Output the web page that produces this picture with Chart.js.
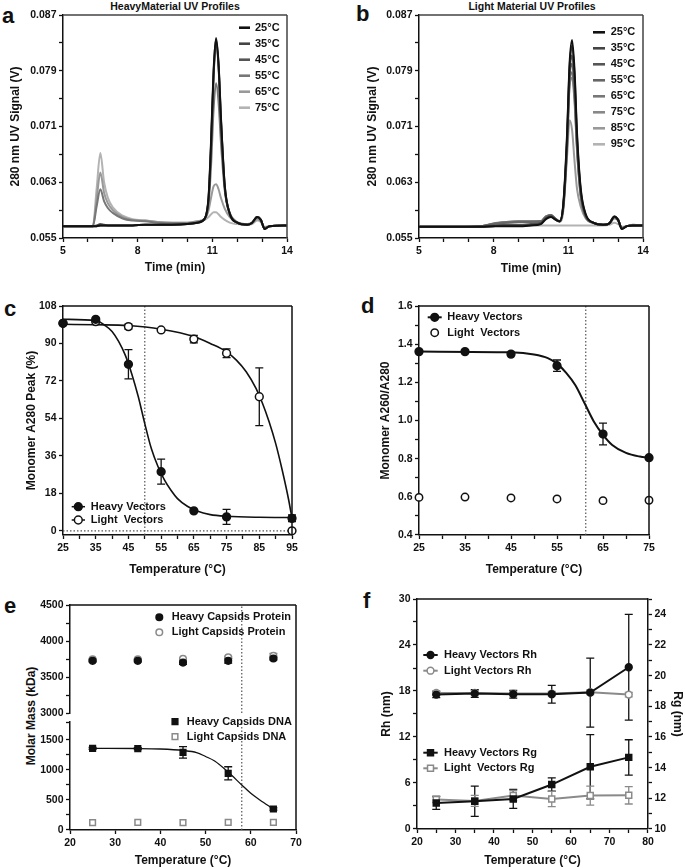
<!DOCTYPE html>
<html lang="en">
<head>
<meta charset="UTF-8">
<title>Capsid thermal stability</title>
<script src="https://cdn.jsdelivr.net/npm/chart.js"></script>
<style>
  body { margin: 0; background: #fff; }
  #page { position: relative; width: 685px; height: 868px; overflow: hidden;
          font-family: "Liberation Sans", Arial, sans-serif; font-weight: bold; color: #111; }
  #page canvas { position: absolute; }
  .tag { position: absolute; font-size: 22px; line-height: 22px; }
  .head { position: absolute; width: 300px; text-align: center; font-size: 10.5px; line-height: 12px; }
  .vtitle { position: absolute; width: 140px; text-align: center; font-size: 12px; line-height: 14px; transform: rotate(-90deg); }
</style>
</head>
<body>
<div id="page">
  <div class="tag" style="left:2px;top:5px">a</div>
  <div class="tag" style="left:356px;top:3px">b</div>
  <div class="tag" style="left:4px;top:298px">c</div>
  <div class="tag" style="left:361px;top:295px">d</div>
  <div class="tag" style="left:4px;top:595px">e</div>
  <div class="tag" style="left:363px;top:590px">f</div>
  <div class="head" style="left:25px;top:0">HeavyMaterial UV Profiles</div>
  <div class="head" style="left:382px;top:0">Light Material UV Profiles</div>
  <div class="vtitle" style="left:-39px;top:709px">Molar Mass (kDa)</div>
</div>
<script>
// ---------- a: heavy material UV traces ----------
const aTime = [5.0, 6.2, 6.35, 6.5, 6.65, 6.8, 7.0, 7.4, 7.8, 8.3, 8.8, 9.4, 10.0, 10.4,
               10.7, 10.85, 10.95, 11.05, 11.15, 11.25, 11.35, 11.5, 11.7, 12.0,
               12.4, 12.6, 12.8, 12.95, 13.1, 13.3, 14.0];
const aTemps = ['25°C', '35°C', '45°C', '55°C', '65°C', '75°C'];
const aColors = ['#111', '#444', '#555', '#777', '#999', '#b3b3b3'];
const a25 = [0.0567,0.0567,0.0567,0.0568,0.0568,0.0568,0.0568,0.0568,0.0568,0.0569,0.0569,0.0569,0.0570,0.0572,
             0.0578,0.0610,0.0690,0.0790,0.0837,0.0800,0.0720,0.0625,0.0585,0.0572,
             0.0569,0.0572,0.0580,0.0576,0.0563,0.0567,0.0568];
const a35 = [0.0567,0.0567,0.0567,0.0568,0.0568,0.0568,0.0568,0.0568,0.0568,0.0569,0.0569,0.0569,0.0570,0.0572,
             0.0578,0.0608,0.0685,0.0785,0.0834,0.0798,0.0718,0.0624,0.0585,0.0572,
             0.0569,0.0572,0.0580,0.0576,0.0563,0.0567,0.0568];
const a45 = [0.0567,0.0567,0.0568,0.0570,0.0569,0.0568,0.0568,0.0568,0.0568,0.0569,0.0569,0.0569,0.0570,0.0572,
             0.0578,0.0606,0.0682,0.0782,0.0830,0.0795,0.0715,0.0622,0.0584,0.0572,
             0.0569,0.0572,0.0580,0.0576,0.0563,0.0567,0.0568];
const a55 = [0.0567,0.0567,0.0595,0.0620,0.0603,0.0593,0.0586,0.0578,0.0575,0.0574,0.0572,0.0571,0.0571,0.0573,
             0.0578,0.0600,0.0655,0.0735,0.0772,0.0745,0.0685,0.0618,0.0586,0.0573,
             0.0570,0.0572,0.0579,0.0575,0.0564,0.0567,0.0568];
const a65 = [0.0567,0.0567,0.0605,0.0644,0.0615,0.0600,0.0590,0.0580,0.0576,0.0575,0.0573,0.0572,0.0572,0.0574,
             0.0578,0.0590,0.0608,0.0624,0.0627,0.0620,0.0607,0.0592,0.0580,0.0572,
             0.0570,0.0571,0.0577,0.0574,0.0565,0.0567,0.0568];
const a75 = [0.0567,0.0567,0.0620,0.0672,0.0630,0.0608,0.0594,0.0582,0.0577,0.0575,0.0573,0.0572,0.0572,0.0574,
             0.0576,0.0580,0.0584,0.0587,0.0587,0.0584,0.0580,0.0576,0.0572,0.0570,
             0.0569,0.0570,0.0575,0.0573,0.0566,0.0567,0.0568];

// ---------- b: light material UV traces ----------
const bTime = [5.0, 6.5, 7.5, 8.0, 8.5, 9.0, 9.5, 9.9, 10.1, 10.3, 10.5, 10.65,
               10.8, 10.95, 11.05, 11.15, 11.25, 11.35, 11.5, 11.7,
               12.0, 12.4, 12.65, 12.85, 13.0, 13.15, 13.35, 13.6, 14.0];
const bTemps = ['25°C', '35°C', '45°C', '55°C', '65°C', '75°C', '85°C', '95°C'];
const bColors = ['#111', '#444', '#555', '#666', '#777', '#888', '#999', '#b3b3b3'];
const b25 = [0.0566,0.0566,0.0566,0.0567,0.0567,0.0567,0.0568,0.0570,0.0577,0.0580,0.0576,0.0574,
             0.0600,0.0700,0.0800,0.0834,0.0790,0.0700,0.0620,0.0584,
             0.0572,0.0569,0.0571,0.0581,0.0576,0.0563,0.0567,0.0568,0.0568];
const b35 = [0.0566,0.0566,0.0566,0.0567,0.0568,0.0568,0.0569,0.0571,0.0578,0.0581,0.0576,0.0574,
             0.0598,0.0695,0.0795,0.0826,0.0784,0.0695,0.0618,0.0583,
             0.0572,0.0569,0.0571,0.0581,0.0576,0.0563,0.0567,0.0568,0.0568];
const b45 = [0.0566,0.0566,0.0567,0.0568,0.0569,0.0569,0.0570,0.0572,0.0579,0.0582,0.0577,0.0574,
             0.0597,0.0690,0.0788,0.0812,0.0772,0.0688,0.0615,0.0582,
             0.0572,0.0569,0.0571,0.0580,0.0576,0.0564,0.0567,0.0568,0.0568];
const b55 = [0.0566,0.0566,0.0567,0.0570,0.0572,0.0573,0.0573,0.0574,0.0580,0.0583,0.0577,0.0574,
             0.0596,0.0685,0.0780,0.0800,0.0762,0.0682,0.0612,0.0581,
             0.0572,0.0569,0.0571,0.0580,0.0576,0.0564,0.0567,0.0568,0.0568];
const b65 = [0.0566,0.0566,0.0567,0.0571,0.0573,0.0574,0.0574,0.0574,0.0581,0.0583,0.0577,0.0574,
             0.0595,0.0682,0.0772,0.0788,0.0752,0.0678,0.0610,0.0580,
             0.0572,0.0569,0.0571,0.0580,0.0576,0.0564,0.0567,0.0568,0.0568];
const b75 = [0.0566,0.0566,0.0567,0.0571,0.0573,0.0574,0.0574,0.0574,0.0581,0.0583,0.0577,0.0574,
             0.0595,0.0680,0.0768,0.0780,0.0745,0.0675,0.0608,0.0580,
             0.0572,0.0569,0.0571,0.0580,0.0576,0.0564,0.0567,0.0568,0.0568];
const b85 = [0.0566,0.0566,0.0567,0.0570,0.0572,0.0573,0.0573,0.0573,0.0578,0.0580,0.0576,0.0573,
             0.0590,0.0668,0.0719,0.0705,0.0660,0.0620,0.0595,0.0578,
             0.0571,0.0569,0.0571,0.0578,0.0575,0.0565,0.0567,0.0569,0.0568];
const b95 = [0.0566,0.0566,0.0566,0.0567,0.0568,0.0568,0.0568,0.0568,0.0568,0.0568,0.0568,0.0568,
             0.0568,0.0568,0.0568,0.0568,0.0568,0.0568,0.0568,0.0568,
             0.0568,0.0568,0.0569,0.0572,0.0570,0.0566,0.0567,0.0569,0.0568];

const timeTicks = [5, 6, 7, 8, 9, 10, 11, 12, 13, 14];
const timeLabels = ['5', '', '', '8', '', '', '11', '', '', '14'];
const uvTicks = [0.055, 0.059, 0.063, 0.067, 0.071, 0.075, 0.079, 0.083, 0.087];
const uvLabels = ['0.055', '', '0.063', '', '0.071', '', '0.079', '', '0.087'];

// ---------- c: monomer A280 peak ----------
const cHeavyT = [25, 35, 45, 55, 65, 75, 95];
const cHeavy = [99.7, 101.6, 80, 28.4, 9.6, 6.7, 6];
const cHeavyErr = [0, 0, 7, 6, 0, 3.6, 1.6];
const cLightT = [25, 35, 45, 55, 65, 75, 85, 95];
const cLight = [99.7, 100.5, 98.1, 96.5, 92.1, 85.3, 64.4, 0];
const cLightErr = [0, 0, 1.2, 0, 1.8, 2.1, 13.9, 0];
const cFitHeavyT = [25, 35, 38, 40, 42, 44, 46, 48, 50, 52, 54, 56, 58, 60, 63, 66, 70, 75, 85, 95];
const cFitHeavy = [101.6, 101.0, 98.5, 95.8, 91.0, 84.5, 75.5, 64.5, 51.5, 39.5, 31.0, 24.5, 19.5, 15.5, 11.8, 9.5, 7.8, 7.0, 6.5, 6.4];
const cFitLightT = [25, 35, 45, 55, 65, 70, 75, 78, 81, 84, 86, 88, 90, 92, 94, 95];
const cFitLight = [99.2, 99.0, 98.6, 96.8, 93.3, 90.0, 86.0, 82.0, 76.4, 68.4, 61.2, 52.4, 42.0, 29.2, 14.7, 6.0];
const cMidT = 50;
const cYMin = -2, cYMax = 108;
const cTTicks = [25, 30, 35, 40, 45, 50, 55, 60, 65, 70, 75, 80, 85, 90, 95];
const cTLabels = ['25', '', '35', '', '45', '', '55', '', '65', '', '75', '', '85', '', '95'];
const cYTicks = [0, 18, 36, 54, 72, 90, 108];
const cYLabels = ['0', '18', '36', '54', '72', '90', '108'];

// ---------- d: monomer A260/A280 ----------
const dT = [25, 35, 45, 55, 65, 75];
const dHeavy = [1.361, 1.361, 1.348, 1.287, 0.929, 0.805];
const dHeavyErr = [0, 0, 0, 0.03, 0.057, 0];
const dLight = [0.597, 0.599, 0.594, 0.589, 0.580, 0.582];
const dFitT = [25, 45, 50, 53, 55, 57, 59, 61, 63, 65, 67, 70, 73, 75];
const dFit = [1.361, 1.357, 1.346, 1.327, 1.298, 1.25, 1.185, 1.09, 0.995, 0.925, 0.872, 0.83, 0.811, 0.805];
const dMidT = 61.25;
const dTTicks = [25, 30, 35, 40, 45, 50, 55, 60, 65, 70, 75];
const dTLabels = ['25', '', '35', '', '45', '', '55', '', '65', '', '75'];
const dYTicks = [0.4, 0.5, 0.6, 0.7, 0.8, 0.9, 1.0, 1.1, 1.2, 1.3, 1.4, 1.5, 1.6];
const dYLabels = ['0.4', '', '0.6', '', '0.8', '', '1.0', '', '1.2', '', '1.4', '', '1.6'];

// ---------- e: molar mass ----------
const eT = [25, 35, 45, 55, 65];
const eHeavyProt = [3724, 3724, 3700, 3724, 3757];
const eHeavyProtErr = [12, 12, 25, 30, 20];
const eLightProt = [3747, 3747, 3752, 3775, 3794];
const eLightProtErr = [8, 8, 8, 12, 35];
const eHeavyDna = [1361, 1356, 1294, 944, 350];
const eHeavyDnaErr = [15, 15, 95, 110, 20];
const eLightDna = [122, 128, 122, 128, 128];
const eFitT = [25, 35, 40, 45, 48, 50, 52, 55, 58, 60, 62, 65];
const eFit = [1361, 1358, 1350, 1325, 1290, 1225, 1150, 965, 750, 611, 500, 350];
const eMidT = 58;
const eTTicks = [20, 30, 40, 50, 60, 70];
const eTLabels = ['20', '30', '40', '50', '60', '70'];
const eTopTicks = [3000, 3250, 3500, 3750, 4000, 4250, 4500];
const eTopLabels = ['3000', '', '3500', '', '4000', '', '4500'];
const eLowTicks = [0, 250, 500, 750, 1000, 1250, 1500, 1800];
const eLowLabels = ['0', '', '500', '', '1000', '', '1500', ''];

// ---------- f: Rh and Rg ----------
const fT = [25, 35, 45, 55, 65, 75];
const fHeavyRh = [17.53, 17.66, 17.58, 17.58, 17.8, 21.1];
const fHeavyRhErr = [0.4, 0.5, 0.5, 1.15, 4.5, 6.9];
const fLightRh = [17.75, 17.75, 17.66, 17.66, 17.84, 17.53];
const fLightRhErr = [0.3, 0.3, 0.3, 0.3, 0.3, 0.3];
const fHeavyRg = [11.70, 11.81, 11.96, 12.90, 14.06, 14.67];
const fHeavyRgErr = [0.42, 0.99, 0.62, 0.43, 2.1, 1.15];
const fLightRg = [11.92, 11.83, 12.18, 11.96, 12.18, 12.20];
const fLightRgErr = [0.2, 0.36, 0.33, 0.5, 0.62, 0.57];
const fTTicks = [20, 25, 30, 35, 40, 45, 50, 55, 60, 65, 70, 75, 80];
const fTLabels = ['20', '', '30', '', '40', '', '50', '', '60', '', '70', '', '80'];
const fRhTicks = [0, 3, 6, 9, 12, 15, 18, 21, 24, 27, 30];
const fRhLabels = ['0', '', '6', '', '12', '', '18', '', '24', '', '30'];
const fRgTicks = [10, 11, 12, 13, 14, 15, 16, 17, 18, 19, 20, 21, 22, 23, 24, 25];
const fRgLabels = ['10', '', '12', '', '14', '', '16', '', '18', '', '20', '', '22', '', '24', ''];

// ---------- shared setup ----------
Chart.defaults.font.family = '"Liberation Sans", Arial, sans-serif';
Chart.defaults.font.weight = 'bold';
Chart.defaults.color = '#111';
Chart.defaults.animation = false;

const INK = '#111';
const GREY = '#8a8a8a';

// error bars go under the markers
const errorBars = {
  id: 'errorBars',
  beforeDatasetsDraw(chart) {
    const ctx = chart.ctx;
    chart.data.datasets.forEach((ds, i) => {
      if (!ds.errors) return;
      const meta = chart.getDatasetMeta(i);
      const ys = chart.scales[meta.yAxisID];
      ctx.save();
      ctx.strokeStyle = ds.borderColor;
      ctx.lineWidth = 1.3;
      meta.data.forEach((el, j) => {
        const e = ds.errors[j];
        if (!e) return;
        const v = ds.data[j].y;
        const y1 = ys.getPixelForValue(v + e), y2 = ys.getPixelForValue(v - e);
        ctx.beginPath();
        ctx.moveTo(el.x, y1); ctx.lineTo(el.x, y2);
        ctx.moveTo(el.x - 4, y1); ctx.lineTo(el.x + 4, y1);
        ctx.moveTo(el.x - 4, y2); ctx.lineTo(el.x + 4, y2);
        ctx.stroke();
      });
      ctx.restore();
    });
  }
};

// top / right edges of the plot box
const frame = {
  id: 'frame',
  afterDatasetsDraw(chart, args, o) {
    if (!o.on) return;
    const { left, top, right, bottom } = chart.chartArea;
    const ctx = chart.ctx;
    ctx.save();
    ctx.strokeStyle = o.color || INK;
    ctx.lineWidth = 1.5;
    ctx.beginPath();
    if (o.top) { ctx.moveTo(left, top); ctx.lineTo(right, top); }
    if (o.right) { ctx.moveTo(right, top); ctx.lineTo(right, bottom + (o.extend || 0)); }
    ctx.stroke();
    ctx.restore();
  }
};

function drawMark(ctx, ds, x, y) {
  const r = ds.pointRadius;
  ctx.beginPath();
  if (ds.pointStyle === 'rect') {
    const h = r * Math.SQRT1_2;
    ctx.rect(x - h, y - h, 2 * h, 2 * h);
  } else {
    ctx.arc(x, y, r, 0, Math.PI * 2);
  }
  ctx.fillStyle = ds.backgroundColor;
  ctx.fill();
  ctx.lineWidth = ds.pointBorderWidth;
  ctx.strokeStyle = ds.borderColor;
  ctx.stroke();
}

// hand placed legend, positions in page pixels
const key = {
  id: 'key',
  afterDraw(chart, args, o) {
    if (!o.rows) return;
    const ctx = chart.ctx;
    ctx.save();
    ctx.font = 'bold 11px "Liberation Sans", Arial, sans-serif';
    ctx.textBaseline = 'middle';
    o.rows.forEach(r => {
      const ds = chart.data.datasets[r.ds];
      const y = r.y - o.oy;
      if (o.line && r.line !== false) {
        ctx.strokeStyle = ds.borderColor;
        ctx.lineWidth = o.lw || ds.borderWidth;
        ctx.beginPath();
        ctx.moveTo(o.x0 - o.ox, y);
        ctx.lineTo(o.x1 - o.ox, y);
        ctx.stroke();
      }
      if (o.mx != null && ds.pointRadius > 0) drawMark(ctx, ds, o.mx - o.ox, y);
      ctx.fillStyle = INK;
      ctx.fillText(r.text || ds.label, o.tx - o.ox, y);
    });
    ctx.restore();
  }
};

Chart.register(errorBars, frame, key);

const pts = (xs, ys) => xs.map((x, i) => ({ x, y: ys[i] }));

function trace(label, xs, ys, color) {
  return { label, data: pts(xs, ys), showLine: true, borderColor: color, borderWidth: 2,
           pointRadius: 0, cubicInterpolationMode: 'monotone', clip: false };
}
function fit(xs, ys, w) {
  return { data: pts(xs, ys), showLine: true, borderColor: INK, borderWidth: w || 1.6,
           pointRadius: 0, cubicInterpolationMode: 'monotone', clip: false };
}
function guide(xs, ys) {
  return { data: pts(xs, ys), showLine: true, borderColor: '#555', borderWidth: 1.2,
           borderDash: [1.5, 2], pointRadius: 0, clip: false };
}
function marks(label, xs, ys, o) {
  return { label, data: pts(xs, ys), showLine: !!o.line, borderColor: o.color,
           backgroundColor: o.open ? '#fff' : o.color, pointStyle: o.square ? 'rect' : 'circle',
           pointRadius: o.r || 4, pointBorderWidth: 1.5, borderWidth: o.lw || 2,
           errors: o.err, clip: false, yAxisID: o.axis || 'y' };
}

function axis(o) {
  const horiz = o.position === 'bottom';
  return {
    type: 'linear', position: o.position, min: o.min, max: o.max, display: o.display !== false,
    afterFit: s => { if (horiz) s.height = o.size; else s.width = o.size; },
    afterBuildTicks: s => { s.ticks = o.ticks.map(v => ({ value: v })); },
    ticks: { autoSkip: false, maxRotation: 0, padding: 2.5, color: INK,
             font: { size: 10.5, weight: 'bold' }, callback: (v, i) => o.labels[i] },
    grid: { drawOnChartArea: false, drawTicks: true, tickLength: 4, tickWidth: 1.3, tickColor: INK },
    border: { display: true, color: INK, width: 1.5 },
    title: o.title ? { display: true, text: o.title, color: INK, padding: 0,
                       font: { size: 12, weight: 'bold' } } : { display: false }
  };
}

// padding and axis sizes so the plot box lands where the figure has it
function geo(box, area, yTitleX, xTitleY, rTitleX) {
  const half = 7.2;
  const pl = yTitleX ? yTitleX - box.x - half : 0;
  const pb = xTitleY ? box.y + box.h - xTitleY - half : box.y + box.h - area.B;
  const pr = rTitleX ? box.x + box.w - rTitleX - half : box.x + box.w - area.R;
  return {
    padding: { left: pl, right: pr, top: area.T - box.y, bottom: pb },
    yW: area.L - box.x - pl,
    xH: xTitleY ? box.y + box.h - pb - area.B : 0,
    rW: rTitleX ? box.x + box.w - pr - area.R : 0
  };
}

function canvasAt(box) {
  const c = document.createElement('canvas');
  c.width = box.w; c.height = box.h;
  c.style.left = box.x + 'px'; c.style.top = box.y + 'px';
  document.getElementById('page').appendChild(c);
  return c;
}

function panel(box, g, datasets, scales, plugins) {
  return new Chart(canvasAt(box), {
    type: 'scatter',
    data: { datasets },
    options: {
      responsive: false,
      layout: { padding: g.padding },
      scales,
      plugins: Object.assign({ legend: { display: false }, tooltip: { enabled: false } }, plugins)
    }
  });
}

// ---- a ----
(() => {
  const box = { x: 0, y: 0, w: 340, h: 290 };
  const g = geo(box, { L: 63, T: 15, R: 287, B: 238 }, 15.3, 268);
  const series = [a25, a35, a45, a55, a65, a75];
  panel(box, g, series.map((s, i) => trace(aTemps[i], aTime, s, aColors[i])), {
    x: axis({ position: 'bottom', min: 5, max: 14, ticks: timeTicks, labels: timeLabels, size: g.xH, title: 'Time (min)' }),
    y: axis({ position: 'left', min: 0.055, max: 0.087, ticks: uvTicks, labels: uvLabels, size: g.yW, title: '280 nm UV Signal (V)' })
  }, {
    frame: { on: true, top: true, right: true, color: '#444' },
    key: { ox: 0, oy: 0, line: true, lw: 2.6, x0: 239, x1: 250, tx: 255,
           rows: aTemps.map((t, i) => ({ ds: i, y: 27.7 + 16 * i })) }
  });
})();

// ---- b ----
(() => {
  const box = { x: 340, y: 0, w: 345, h: 290 };
  const g = geo(box, { L: 419, T: 15, R: 643, B: 238 }, 372.3, 268.7);
  const series = [b25, b35, b45, b55, b65, b75, b85, b95];
  panel(box, g, series.map((s, i) => trace(bTemps[i], bTime, s, bColors[i])), {
    x: axis({ position: 'bottom', min: 5, max: 14, ticks: timeTicks, labels: timeLabels, size: g.xH, title: 'Time (min)' }),
    y: axis({ position: 'left', min: 0.055, max: 0.087, ticks: uvTicks, labels: uvLabels, size: g.yW, title: '280 nm UV Signal (V)' })
  }, {
    frame: { on: true, top: true, right: true, color: '#444' },
    key: { ox: 340, oy: 0, line: true, lw: 2.6, x0: 593, x1: 605, tx: 610.7,
           rows: bTemps.map((t, i) => ({ ds: i, y: 32.3 + 16 * i })) }
  });
})();

// ---- c ----
(() => {
  const box = { x: 0, y: 290, w: 340, h: 290 };
  const g = geo(box, { L: 63, T: 306, R: 292, B: 535 }, 31.3, 569.7);
  panel(box, g, [
    marks('Heavy Vectors', cHeavyT, cHeavy, { color: INK, r: 3.9, err: cHeavyErr }),
    marks('Light  Vectors', cLightT, cLight, { color: INK, open: true, r: 3.9, err: cLightErr }),
    fit(cFitHeavyT, cFitHeavy),
    fit(cFitLightT, cFitLight),
    guide([cMidT, cMidT], [cYMin, cYMax]),
    guide([25, 95], [0, 0])
  ], {
    x: axis({ position: 'bottom', min: 25, max: 95, ticks: cTTicks, labels: cTLabels, size: g.xH, title: 'Temperature (°C)' }),
    y: axis({ position: 'left', min: cYMin, max: cYMax, ticks: cYTicks, labels: cYLabels, size: g.yW, title: 'Monomer A280 Peak (%)' })
  }, {
    frame: { on: true, top: true, right: true },
    key: { ox: 0, oy: 290, line: true, lw: 1.5, x0: 71.7, x1: 85, mx: 78.3, tx: 90.7,
           rows: [{ ds: 0, y: 506.7 }, { ds: 1, y: 520 }] }
  });
})();

// ---- d ----
(() => {
  const box = { x: 340, y: 290, w: 345, h: 290 };
  const g = geo(box, { L: 419, T: 306, R: 649, B: 535 }, 385.8, 569.3);
  panel(box, g, [
    marks('Heavy Vectors', dT, dHeavy, { color: INK, r: 3.9, err: dHeavyErr }),
    marks('Light  Vectors', dT, dLight, { color: INK, open: true, r: 3.7 }),
    fit(dFitT, dFit, 2),
    guide([dMidT, dMidT], [0.4, 1.6])
  ], {
    x: axis({ position: 'bottom', min: 25, max: 75, ticks: dTTicks, labels: dTLabels, size: g.xH, title: 'Temperature (°C)' }),
    y: axis({ position: 'left', min: 0.4, max: 1.6, ticks: dYTicks, labels: dYLabels, size: g.yW, title: 'Monomer A260/A280' })
  }, {
    frame: { on: true, top: true, right: true },
    key: { ox: 340, oy: 290, line: true, lw: 2, x0: 427.7, x1: 441.7, mx: 434.7, tx: 447.3,
           rows: [{ ds: 0, y: 317.3 }, { ds: 1, y: 332.7, line: false }] }
  });
})();

// ---- e (broken axis: two stacked plots) ----
(() => {
  const top = { x: 0, y: 580, w: 340, h: 142 };
  const gt = geo(top, { L: 70, T: 605, R: 296, B: 713 }, null, null);
  panel(top, gt, [
    marks('Heavy Capsids Protein', eT, eHeavyProt, { color: INK, r: 3.3, err: eHeavyProtErr }),
    marks('Light Capsids Protein', eT, eLightProt, { color: GREY, open: true, r: 3.3, err: eLightProtErr }),
    guide([eMidT, eMidT], [3000, 4500])
  ], {
    x: axis({ position: 'bottom', min: 20, max: 70, ticks: eTTicks, labels: eTLabels, size: 0, display: false }),
    y: axis({ position: 'left', min: 3000, max: 4500, ticks: eTopTicks, labels: eTopLabels, size: gt.yW })
  }, {
    frame: { on: true, top: true, right: true, extend: 9 },
    key: { ox: 0, oy: 580, line: false, mx: 159.3, tx: 171.7,
           rows: [{ ds: 0, y: 617.3 }, { ds: 1, y: 632.3 }] }
  });

  const low = { x: 0, y: 712, w: 340, h: 156 };
  const gl = geo(low, { L: 70, T: 722, R: 296, B: 830 }, null, 860.3);
  panel(low, gl, [
    marks('Heavy Capsids DNA', eT, eHeavyDna, { color: INK, square: true, r: 4, err: eHeavyDnaErr }),
    marks('Light Capsids DNA', eT, eLightDna, { color: GREY, square: true, open: true, r: 4 }),
    fit(eFitT, eFit, 1.3),
    guide([eMidT, eMidT], [0, 1800])
  ], {
    x: axis({ position: 'bottom', min: 20, max: 70, ticks: eTTicks, labels: eTLabels, size: gl.xH, title: 'Temperature (°C)' }),
    y: axis({ position: 'left', min: 0, max: 1800, ticks: eLowTicks, labels: eLowLabels, size: gl.yW })
  }, {
    frame: { on: true, top: false, right: true },
    key: { ox: 0, oy: 712, line: false, mx: 175, tx: 186.7,
           rows: [{ ds: 0, y: 721.7 }, { ds: 1, y: 736.7 }] }
  });
})();

// ---- f ----
(() => {
  const box = { x: 340, y: 580, w: 345, h: 288 };
  const g = geo(box, { L: 417, T: 599, R: 648, B: 829 }, 386.7, 860.3, 677.3);
  panel(box, g, [
    marks('Heavy Vectors Rh', fT, fHeavyRh, { color: INK, line: true, r: 3.4, err: fHeavyRhErr }),
    marks('Light Vectors Rh', fT, fLightRh, { color: GREY, open: true, line: true, r: 3.4, err: fLightRhErr }),
    marks('Heavy Vectors Rg', fT, fHeavyRg, { color: INK, line: true, square: true, r: 4.2, err: fHeavyRgErr, axis: 'y2' }),
    marks('Light  Vectors Rg', fT, fLightRg, { color: GREY, open: true, line: true, square: true, r: 4.2, err: fLightRgErr, axis: 'y2' })
  ], {
    x: axis({ position: 'bottom', min: 20, max: 80, ticks: fTTicks, labels: fTLabels, size: g.xH, title: 'Temperature (°C)' }),
    y: axis({ position: 'left', min: 0, max: 30, ticks: fRhTicks, labels: fRhLabels, size: g.yW, title: 'Rh (nm)' }),
    y2: axis({ position: 'right', min: 10, max: 25, ticks: fRgTicks, labels: fRgLabels, size: g.rW, title: 'Rg (nm)' })
  }, {
    frame: { on: true, top: true, right: false },
    key: { ox: 340, oy: 580, line: true, lw: 2, x0: 423.3, x1: 437.7, mx: 430.5, tx: 444,
           rows: [{ ds: 0, y: 655 }, { ds: 1, y: 670.7 }, { ds: 2, y: 752.7 }, { ds: 3, y: 768.3 }] }
  });
})();
</script>
</body>
</html>
